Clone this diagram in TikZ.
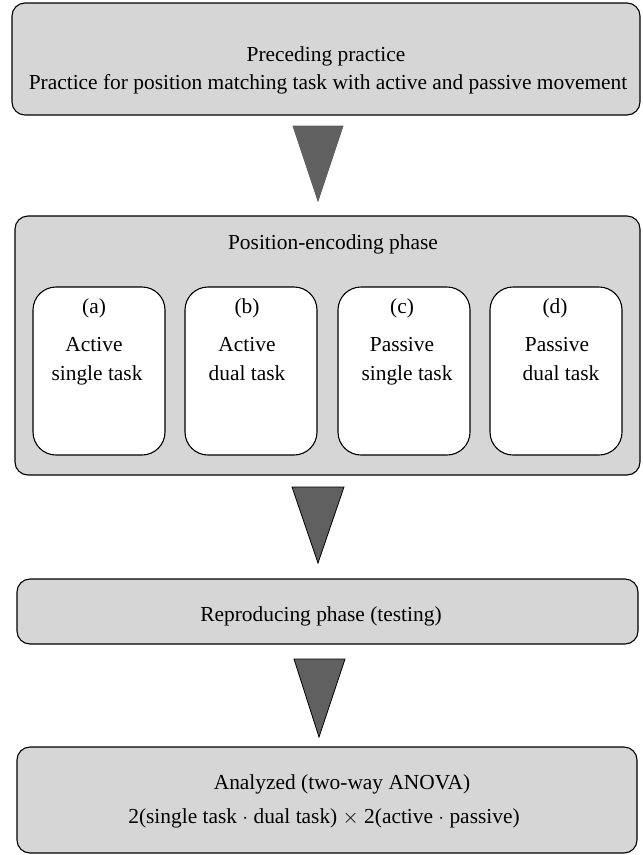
\documentclass[tikz,border=0pt]{standalone}
\usepackage{fontspec}
\setmainfont{Liberation Serif}
\definecolor{boxgray}{HTML}{D6D6D6}
\definecolor{trigray}{HTML}{5F605F}
\begin{document}
\begin{tikzpicture}[x=1pt,y=-1pt,
  box/.style={draw=black, line width=1.1pt, fill=boxgray, rounded corners=13pt, inner sep=0pt},
  inner/.style={draw=black, line width=1.1pt, fill=white, rounded corners=23pt, inner sep=0pt,
    minimum width=132pt, minimum height=168pt},
  txt/.style={anchor=base, inner sep=0pt, font=\fontsize{21.4}{25}\selectfont},
  tri/.style={fill=trigray, draw=black, line width=0.8pt, line join=miter},
  trinb/.style={fill=trigray, draw=trigray, line width=0.8pt}]
\useasboundingbox (0,0) rectangle (643,855);
% box 1
\node[box, minimum width=628pt, minimum height=112pt] (b1) at (326,59) {};
\node[txt] (t1a) at (326,61) {Preceding practice};
\node[txt] (t1b) at (328,89) {Practice for position matching task with active and passive movement};
% arrow 1
\coordinate (a1l) at (293,126); \coordinate (a1r) at (343,126); \coordinate (a1t) at (318,201);
\path[trinb] (a1l) -- (a1r) -- (a1t) -- cycle;
% box 2
\node[box, minimum width=625pt, minimum height=259pt] (b2) at (327.5,345.5) {};
\node[txt] (t2) at (333,249) {Position-encoding phase};
\node[inner] (ia) at (99,371) {};
\node[inner] (ib) at (251,371) {};
\node[inner] (ic) at (404,371) {};
\node[inner] (id) at (556,371) {};
\node[txt] (la) at (94,313) {(a)};
\node[txt] (la1) at (94,351) {Active};
\node[txt] (la2) at (97,380) {single task};
\node[txt] (lb) at (247,313) {(b)};
\node[txt] (lb1) at (247,351) {Active};
\node[txt] (lb2) at (247,380) {dual task};
\node[txt] (lc) at (402,313) {(c)};
\node[txt] (lc1) at (402,351) {Passive};
\node[txt] (lc2) at (407,380) {single task};
\node[txt] (ld) at (555,313) {(d)};
\node[txt] (ld1) at (557,351) {Passive};
\node[txt] (ld2) at (561,380) {dual task};
% arrow 2
\coordinate (a2l) at (292,487); \coordinate (a2r) at (344,487); \coordinate (a2t) at (318,563);
\path[tri] (a2l) -- (a2r) -- (a2t) -- cycle;
% box 3
\node[box, minimum width=621pt, minimum height=65pt] (b3) at (327.5,611.5) {};
\node[txt] (t3) at (321,621) {Reproducing phase (testing)};
% arrow 3
\coordinate (a3l) at (294,659); \coordinate (a3r) at (345,659); \coordinate (a3t) at (319,737);
\path[tri] (a3l) -- (a3r) -- (a3t) -- cycle;
% box 4
\node[box, minimum width=620pt, minimum height=106pt] (b4) at (327,800) {};
\node[txt] (t4a) at (342,789) {Analyzed (two-way ANOVA)};
\node[txt] (t4b) at (324,823) {2(single task $\cdot$ dual task) $\times$ 2(active $\cdot$ passive)};
\end{tikzpicture}
\end{document}
